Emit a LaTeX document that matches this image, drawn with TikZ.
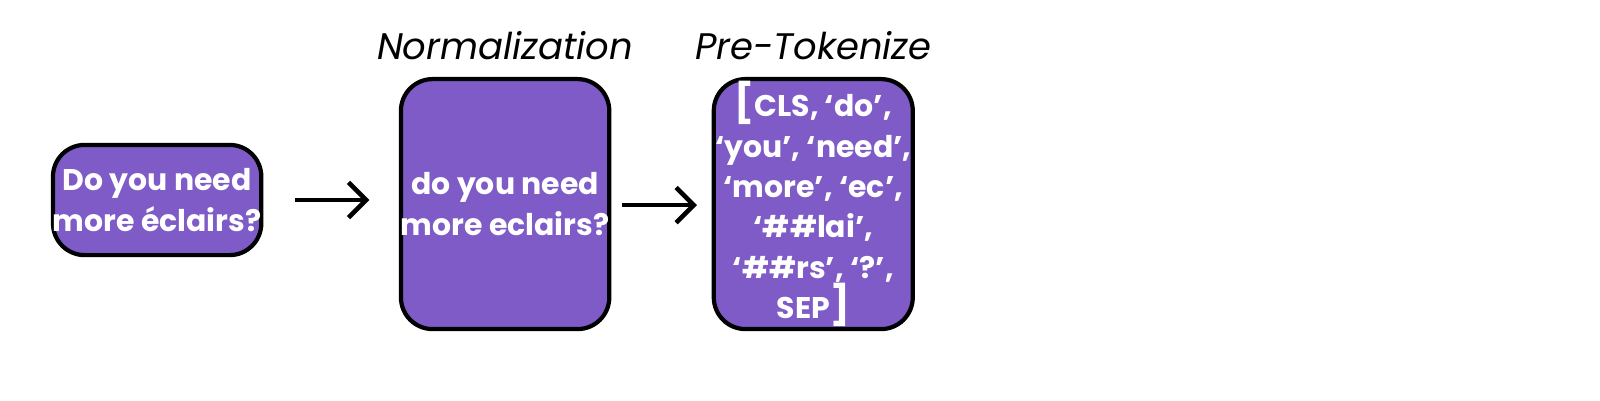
\documentclass[tikz,border=0pt]{standalone}
\usepackage{fontspec}
\setmainfont{Poppins}
\usetikzlibrary{arrows.meta}
\definecolor{boxpurple}{HTML}{7E5BC6}
\begin{document}
\begin{tikzpicture}[x=0.0102cm,y=-0.0102cm,
  pbox/.style={draw=black,line width=1.2pt,fill=boxpurple,rounded corners=9pt,text=white,font=\fontsize{8.5}{11.5}\selectfont\bfseries,align=center,inner sep=0pt},
  arr/.style={-{Straight Barb[length=5pt,width=10pt]},line width=1.3pt},
  ttl/.style={font=\fontsize{10.5}{12}\selectfont\itshape}]
\useasboundingbox (0,0) rectangle (1568,392);
\node[pbox,minimum width=196*0.0102cm,minimum height=108*0.0102cm] (b1) at (154,196) {Do you need\\more éclairs?};
\node[pbox,minimum width=195*0.0102cm,minimum height=245*0.0102cm] (b2) at (495,200) {do you need\\more eclairs?};
\node[pbox,minimum width=195*0.0102cm,minimum height=245*0.0102cm] (b3) at (797,200) {{\fontsize{11}{11}\selectfont[}CLS, ‘do’,\\‘you’, ‘need’,\\‘more’, ‘ec’,\\‘\#\#lai’,\\‘\#\#rs’, ‘?’,\\SEP{\fontsize{11}{11}\selectfont]}};
\node[ttl] (t2) at (495,45) {Normalization};
\node[ttl] (t3) at (797,45) {Pre-Tokenize};
\coordinate (a1s) at (289,196); \coordinate (a1e) at (362,196);
\coordinate (a2s) at (610,201); \coordinate (a2e) at (683,201);
\draw[arr] (a1s) -- (a1e);
\draw[arr] (a2s) -- (a2e);
\end{tikzpicture}
\end{document}
